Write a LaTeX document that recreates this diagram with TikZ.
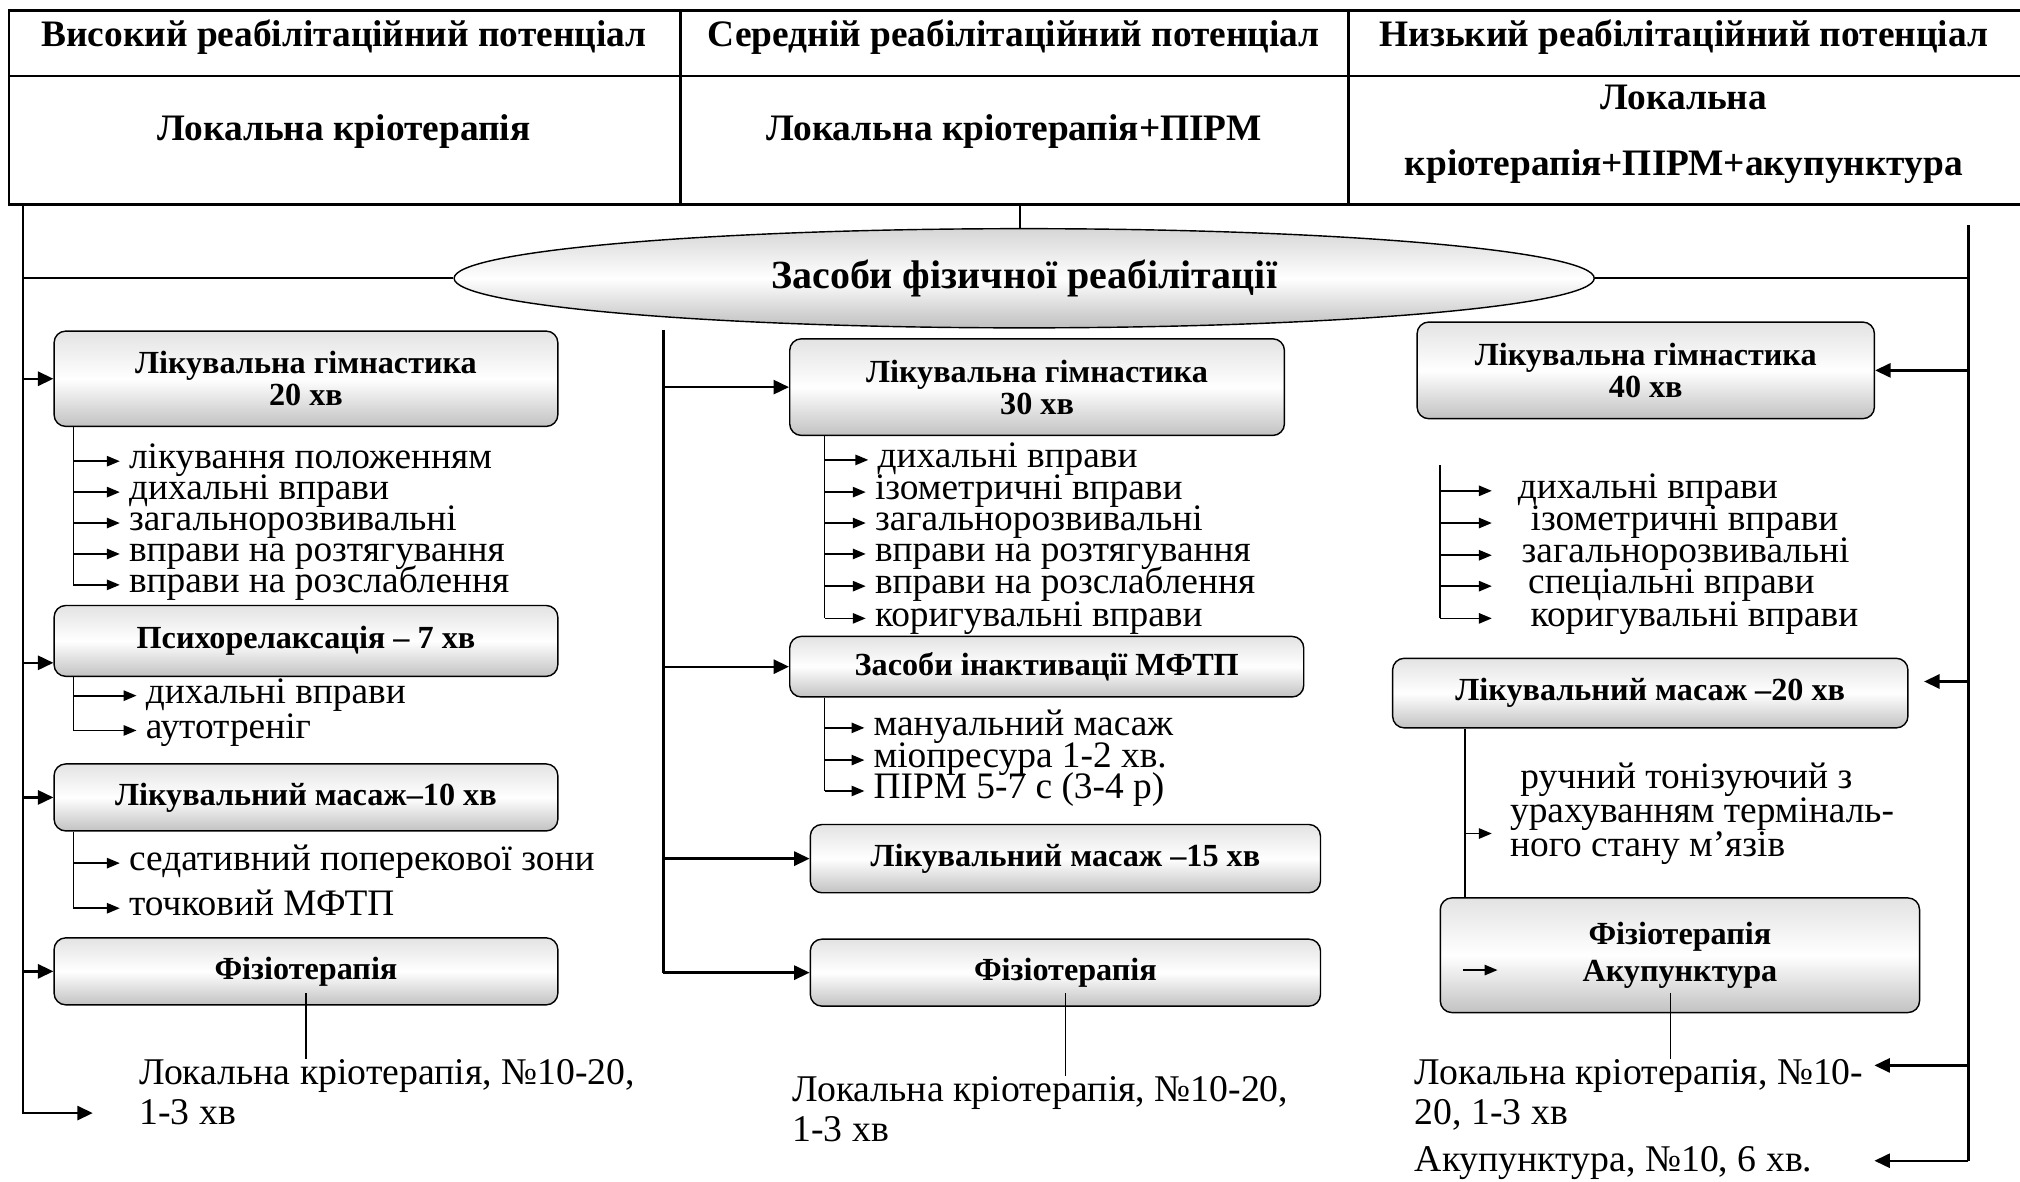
\documentclass[tikz,border=0pt]{standalone}
\usepackage{fontspec}
\setmainfont{Liberation Serif}
\usetikzlibrary{positioning,shapes.geometric,arrows.meta}

\tikzset{
  tabline/.style={line width=2.2pt},
  conn/.style={line width=1.8pt, -{Triangle[length=12pt,width=11pt]}},
  trunk/.style={line width=1.8pt},
  listline/.style={line width=1.3pt},
  listarr/.style={line width=1.3pt, -{Triangle[length=10pt,width=8pt]}},
  thinline/.style={line width=0.9pt},
  stagebox/.style={draw, line width=1.1pt, rounded corners=9pt,
    top color=gray!22, bottom color=gray!48, middle color=white,
    align=center, inner sep=0pt, font=\bfseries\fontsize{25}{25}\selectfont},
  headtxt/.style={align=center, inner sep=0pt, font=\bfseries\fontsize{29}{51}\selectfont},
  listitem/.style={anchor=west, inner xsep=7pt, inner ysep=0pt,
    text height=16pt, text depth=4pt, font=\fontsize{29}{25}\selectfont},
  note/.style={anchor=north west, align=left, inner sep=0pt, font=\fontsize{29.3}{31}\selectfont}
}

\begin{document}
\begin{tikzpicture}[x=1pt, y=-1pt]
  \useasboundingbox (0,0) rectangle (1568,917);

  % table
  \draw[tabline] (1568,8) -- (7,8) -- (7,159) -- (1568,159);
  \draw[tabline] (7,59) -- (1568,59);
  \draw[tabline] (528,8) -- (528,159) (1047,8) -- (1047,159);
  \node[headtxt] (h1) at (267,29) {Високий реабілітаційний потенціал};
  \node[headtxt] (h2) at (787,29) {Середній реабілітаційний потенціал};
  \node[headtxt] (h3) at (1307,29) {Низький реабілітаційний потенціал};
  \node[headtxt] (r1) at (267,102) {Локальна кріотерапія};
  \node[headtxt] (r2) at (787,102) {Локальна кріотерапія+ПІРМ};
  \node[headtxt] (r3) at (1307,104) {Локальна\\кріотерапія+ПІРМ+акупунктура};

  % centre
  \node[ellipse, draw, line width=1.1pt, minimum width=885pt, minimum height=77pt, inner sep=0pt,
        top color=gray!32, bottom color=gray!50, middle color=white,
        font=\bfseries\fontsize{31}{31}\selectfont] (zf) at (795,216) {Засоби фізичної реабілітації};
  \coordinate (tbot) at (792,159);
  \draw[listline] (tbot) -- (tbot |- zf.north);

  % left column
  \node[stagebox, minimum width=391pt, minimum height=74pt] (lg20) at (237.5,294) {Лікувальна гімнастика\\20 хв};
  \node[stagebox, minimum width=391pt, minimum height=55pt] (psy) at (237.5,497.5) {Психорелаксація -- 7 хв};
  \node[stagebox, minimum width=391pt, minimum height=52pt] (lm10) at (237.5,619) {Лікувальний масаж--10 хв};
  \node[stagebox, minimum width=391pt, minimum height=52pt] (fz1) at (237.5,754) {Фізіотерапія};

  \node[listitem] (a1) at (93,358) {лікування положенням};
  \node[listitem] (a2) at (93,382) {дихальні вправи};
  \node[listitem] (a3) at (93,406) {загальнорозвивальні};
  \node[listitem] (a4) at (93,430) {вправи на розтягування};
  \node[listitem] (a5) at (93,454) {вправи на розслаблення};
  \node[listitem] (b1) at (106,540) {дихальні вправи};
  \node[listitem] (b2) at (106,567) {аутотреніг};
  \node[listitem] (c1) at (93,670) {седативний поперекової зони};
  \node[listitem] (c2) at (93,705) {точковий МФТП};
  \node[note] (k1) at (108,822) {Локальна кріотерапія, №10-20,\\1-3 хв};

  \coordinate (ltop) at (18,159);
  \coordinate (lbot) at (18,864);
  \coordinate (lend) at (72,864);
  \coordinate (psyin) at ([yshift=-17pt]psy.west);
  \draw[conn] (ltop) -- (lbot) -- (lend);
  \draw[trunk] (ltop |- zf.west) -- (zf.west);
  \draw[conn] (ltop |- lg20.west) -- (lg20.west);
  \draw[conn] (ltop |- psyin) -- (psyin);
  \draw[conn] (ltop |- lm10.west) -- (lm10.west);
  \draw[conn] (ltop |- fz1.west) -- (fz1.west);

  \coordinate (lx) at (57,0);
  \draw[listline] (lx |- lg20.south) -- (lx |- a5.west);
  \draw[listarr] (lx |- a1.west) -- (a1.west);
  \draw[listarr] (lx |- a2.west) -- (a2.west);
  \draw[listarr] (lx |- a3.west) -- (a3.west);
  \draw[listarr] (lx |- a4.west) -- (a4.west);
  \draw[listarr] (lx |- a5.west) -- (a5.west);
  \draw[listline] (lx |- psy.south) -- (lx |- b2.west);
  \draw[listarr] (lx |- b1.west) -- (b1.west);
  \draw[listarr] (lx |- b2.west) -- (b2.west);
  \draw[listline] (lx |- lm10.south) -- (lx |- c2.west);
  \draw[listarr] (lx |- c1.west) -- (c1.west);
  \draw[listarr] (lx |- c2.west) -- (c2.west);
  \draw[thinline] ([yshift=-17pt]fz1.center) -- (fz1.center |- k1.north);

  % middle column
  \node[stagebox, minimum width=384pt, minimum height=75pt] (lg30) at (805,300.5) {Лікувальна гімнастика\\30 хв};
  \node[stagebox, minimum width=399pt, minimum height=47pt] (mftp) at (812.5,517.5) {Засоби інактивації МФТП};
  \node[stagebox, minimum width=396pt, minimum height=53pt] (lm15) at (827,666.5) {Лікувальний масаж --15 хв};
  \node[stagebox, minimum width=396pt, minimum height=52pt] (fz2) at (827,755) {Фізіотерапія};

  \node[listitem] (d1) at (674,357) {дихальні вправи};
  \node[listitem] (d2) at (672,382) {ізометричні вправи};
  \node[listitem] (d3) at (672,406) {загальнорозвивальні};
  \node[listitem] (d4) at (672,430) {вправи на розтягування};
  \node[listitem] (d5) at (672,455) {вправи на розслаблення};
  \node[listitem] (d6) at (672,480) {коригувальні вправи};
  \node[listitem] (e1) at (671,565) {мануальний масаж};
  \node[listitem] (e2) at (671,590) {міопресура 1-2 хв.};
  \node[listitem] (e3) at (671,614) {ПІРМ 5-7 с (3-4 р)};
  \node[note] (k2) at (615,835) {Локальна кріотерапія, №10-20,\\1-3 хв};

  \coordinate (mtop) at (515,256);
  \draw[trunk] (mtop) -- (mtop |- fz2.west);
  \draw[conn] (mtop |- lg30.west) -- (lg30.west);
  \draw[conn] (mtop |- mftp.west) -- (mftp.west);
  \draw[conn] (mtop |- lm15.west) -- (lm15.west);
  \draw[conn] (mtop |- fz2.west) -- (fz2.west);

  \coordinate (mx) at (640,0);
  \draw[listline] (mx |- lg30.south) -- (mx |- d6.west);
  \draw[listarr] (mx |- d1.west) -- (d1.west);
  \draw[listarr] (mx |- d2.west) -- (d2.west);
  \draw[listarr] (mx |- d3.west) -- (d3.west);
  \draw[listarr] (mx |- d4.west) -- (d4.west);
  \draw[listarr] (mx |- d5.west) -- (d5.west);
  \draw[listarr] (mx |- d6.west) -- (d6.west);
  \draw[listline] (mx |- mftp.south) -- (mx |- e3.west);
  \draw[listarr] (mx |- e1.west) -- (e1.west);
  \draw[listarr] (mx |- e2.west) -- (e2.west);
  \draw[listarr] (mx |- e3.west) -- (e3.west);
  \draw[thinline] ([yshift=-16pt]fz2.center) -- (fz2.center |- k2.north);

  % right column
  \node[stagebox, minimum width=355pt, minimum height=75pt] (lg40) at (1277.5,287.5) {Лікувальна гімнастика\\40 хв};
  \node[stagebox, minimum width=400pt, minimum height=54pt] (lm20) at (1281,538) {Лікувальний масаж --20 хв};
  \node[stagebox, minimum width=372pt, minimum height=89pt, font=\bfseries\fontsize{25}{29}\selectfont] (fz3) at (1304,741.5) {Фізіотерапія\\Акупунктура};

  \node[listitem] (f1) at (1171,381) {дихальні вправи};
  \node[listitem] (f2) at (1181,406) {ізометричні вправи};
  \node[listitem] (f3) at (1174,431) {загальнорозвивальні};
  \node[listitem] (f4) at (1179,455) {спеціальні вправи};
  \node[listitem] (f5) at (1181,480) {коригувальні вправи};
  \node[note, font=\fontsize{29}{25}\selectfont] (g1) at (1172,592) {\hspace*{8pt}ручний тонізуючий з\\урахуванням терміналь-\\ного стану м’язів};
  \node[note] (k3) at (1098,822) {Локальна кріотерапія, №10-\\20, 1-3 хв};
  \node[listitem, font=\fontsize{29.3}{31}\selectfont] (k4) at (1091,903) {Акупунктура, №10, 6 хв.};

  \coordinate (rtop) at (1528,175);
  \coordinate (rbot) at (1528,901);
  \coordinate (lm20in) at ([yshift=9pt]lm20.east);
  \coordinate (k3in) at (1455,827);
  \coordinate (k4in) at (1455,901);
  \draw[trunk] (rtop) -- (rbot);
  \draw[trunk] (zf.east) -- (rtop |- zf.east);
  \draw[conn] (rtop |- lg40.east) -- (lg40.east);
  \draw[conn, shorten >=12pt] (rtop |- lm20in) -- (lm20in);
  \draw[conn] (rtop |- k3in) -- (k3in);
  \draw[conn] (rbot) -- (k4in);

  \coordinate (rx) at (1118,361);
  \coordinate (rp) at (1158,0);
  \draw[listline] (rx) -- (rx |- f5.west);
  \draw[listarr] (rx |- f1.west) -- (rp |- f1.west);
  \draw[listarr] (rx |- f2.west) -- (rp |- f2.west);
  \draw[listarr] (rx |- f3.west) -- (rp |- f3.west);
  \draw[listarr] (rx |- f4.west) -- (rp |- f4.west);
  \draw[listarr] (rx |- f5.west) -- (rp |- f5.west);

  \coordinate (mx3) at (1137,0);
  \coordinate (g0) at (1158,647);
  \draw[listline] (mx3 |- lm20.south) -- (mx3 |- fz3.north);
  \draw[listarr] (mx3 |- g0) -- (g0);
  \draw[listarr] ([xshift=18pt,yshift=-11.5pt]fz3.west) -- ++(27,0);
  \draw[thinline] ([xshift=-7pt,yshift=-29.5pt]fz3.center) -- ([xshift=-7pt]fz3.center |- k3.north);
\end{tikzpicture}
\end{document}
